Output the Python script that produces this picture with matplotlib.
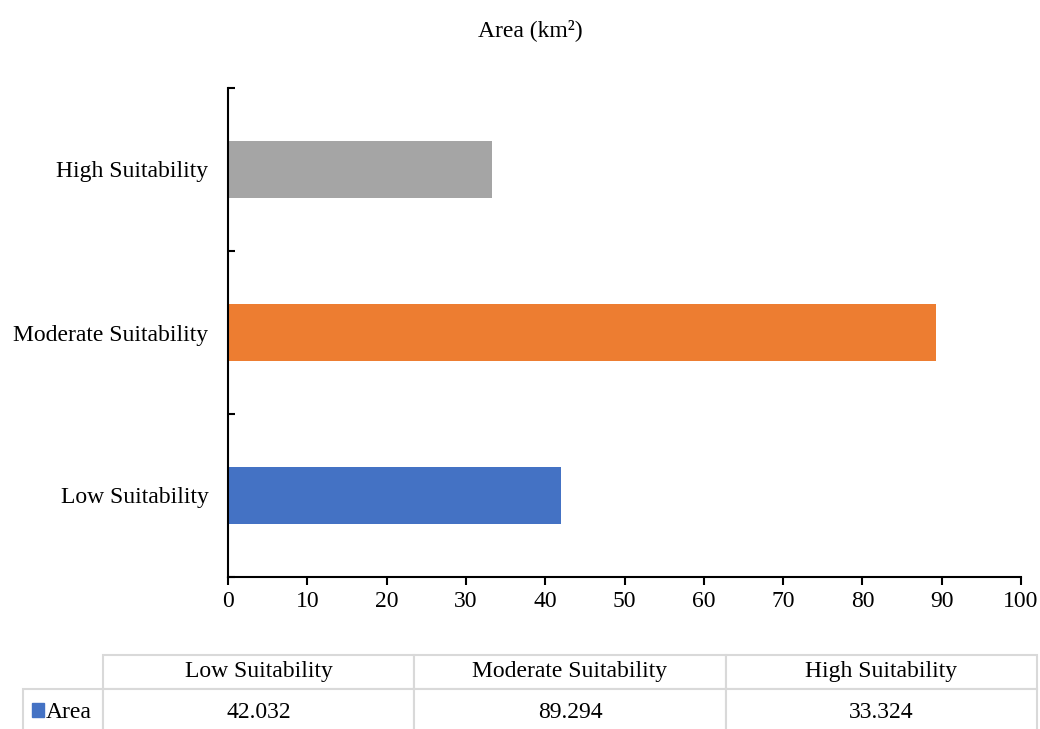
import matplotlib.pyplot as plt
from matplotlib.ticker import FixedLocator

plt.rcParams['font.family'] = ['Liberation Serif', 'DejaVu Serif']

categories = ['Low Suitability', 'Moderate Suitability', 'High Suitability']
area = [42.032, 89.294, 33.324]
area_labels = ['42.032', '89.294', '33.324']
colors = ['#4472C4', '#ED7D31', '#A5A5A5']
series_name = 'Area'
title = 'Area (km\u00b2)'

W, H = 1040, 729
fig = plt.figure(figsize=(W / 100, H / 100), dpi=100)

# main bar chart
ax = fig.add_axes([228 / W, 1 - 577 / H, (1021 - 228) / W, (577 - 88) / H])
ypos = list(range(len(categories)))
ax.barh(ypos, area, height=0.35, color=colors)
ax.set_xlim(0, 100)
ax.set_ylim(-0.5, len(categories) - 0.5)
ax.set_xticks(range(0, 101, 10))
ax.set_yticks(ypos)
ax.set_yticklabels(categories)
ax.yaxis.set_minor_locator(FixedLocator([i - 0.5 for i in range(len(categories) + 1)]))
ax.tick_params(axis='y', which='major', length=0, pad=14, labelsize=17)
ax.tick_params(axis='y', which='minor', direction='in', length=5, width=1.5)
ax.tick_params(axis='x', direction='out', length=6, width=1.5, pad=4, labelsize=17)
for s in ['top', 'right']:
    ax.spines[s].set_visible(False)
for s in ['left', 'bottom']:
    ax.spines[s].set_linewidth(1.5)

fig.text(0.51, 1 - 30 / H, title, ha='center', va='center', fontsize=17)

# data table below the chart (bottom row runs off the figure, as in the original)
tab_top, head_h, row_h = 655, 34, 46
tab_bottom = tab_top + head_h + row_h
tax = fig.add_axes([23 / W, 1 - tab_bottom / H, (1037 - 23) / W, (tab_bottom - tab_top) / H])
tax.axis('off')
col_w = [80 / 1014, 311 / 1014, 312 / 1014, 311 / 1014]
cells = [[''] + categories, [series_name] + area_labels]
tbl = tax.table(cellText=cells, colWidths=col_w, bbox=[0, 0, 1, 1], cellLoc='center')
tbl.auto_set_font_size(False)
for (r, c), cell in tbl.get_celld().items():
    cell.set_edgecolor('#D9D9D9')
    cell.set_linewidth(1.5)
    cell.set_height(head_h if r == 0 else row_h)
    cell.get_text().set_fontsize(17)
    if r == 0 and c == 0:
        cell.visible_edges = ''
    if r == 1 and c == 0:
        cell._loc = 'left'
        cell.get_text().set_ha('left')
        cell.PAD = 0.29
tbl.set_clip_on(False)

# legend key in the table
fig.patches.append(plt.Rectangle((32 / W, 1 - 717 / H), 12 / W, 14 / H,
                                 transform=fig.transFigure, color=colors[0]))

fig.savefig('out.png', dpi=100)
